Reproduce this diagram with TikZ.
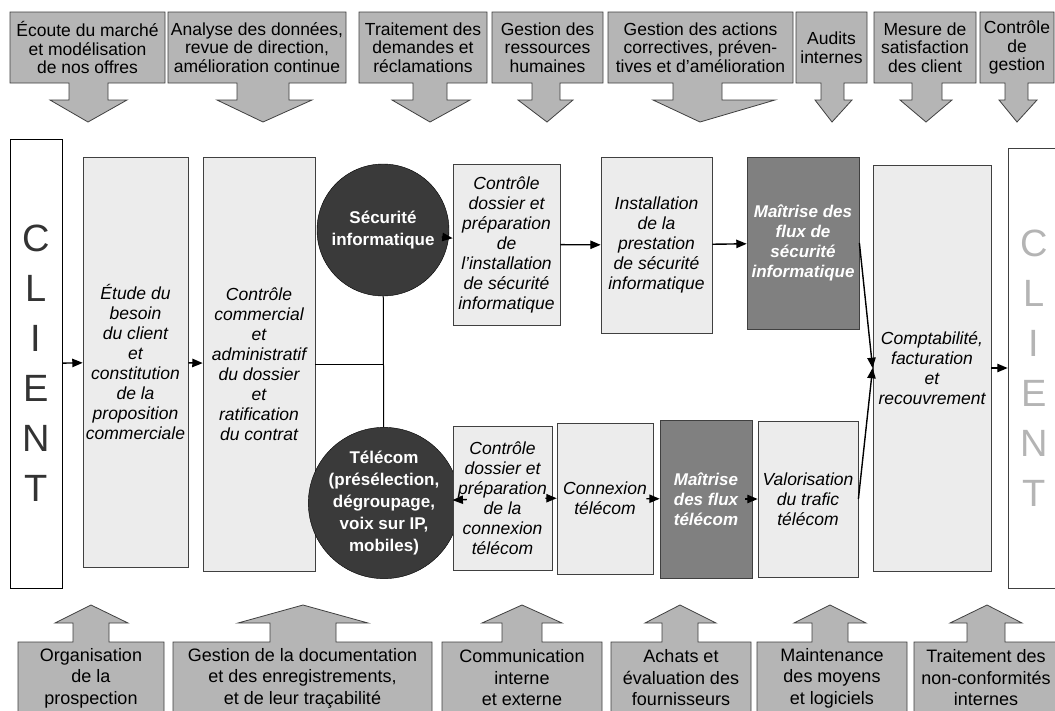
\documentclass[tikz,border=0pt]{standalone}
\usepackage{fontspec}
\setmainfont{Liberation Sans}
\usetikzlibrary{arrows}
\definecolor{callgray}{RGB}{181,181,181}
\definecolor{boxgray}{RGB}{236,236,236}
\definecolor{keygray}{RGB}{128,128,128}
\definecolor{hubgray}{RGB}{58,58,58}
\definecolor{edgegray}{RGB}{64,64,64}
\definecolor{fadegray}{RGB}{180,180,180}

\begin{document}
\begin{tikzpicture}[x=1pt,y=-1pt,>=triangle 45]
	\tikzstyle{procbox} = [rectangle,fill=boxgray,draw=edgegray,line width=0.8pt,inner sep=0pt,align=center,font=\fontsize{17.5}{20}\selectfont\itshape];
	\tikzstyle{keybox} = [procbox,fill=keygray,text=white,font=\fontsize{17}{20}\selectfont\bfseries\itshape];
	\tikzstyle{hub} = [circle,fill=hubgray,draw=black,minimum size=132pt,inner sep=0pt,align=center,text=white,font=\fontsize{17}{22}\selectfont\bfseries];
	\tikzstyle{clientbox} = [rectangle,fill=white,draw=black,line width=0.8pt,inner sep=0pt,align=center,font=\fontsize{38}{50}\selectfont];
	\tikzstyle{callout} = [fill=callgray,draw=edgegray,line width=0.8pt];
	\tikzstyle{toptext} = [align=center,inner sep=0pt,font=\fontsize{17.5}{18.5}\selectfont];
	\tikzstyle{bottext} = [align=center,inner sep=0pt,font=\fontsize{18}{21.5}\selectfont];
	\tikzstyle{flow} = [->,line width=1.4pt];
	\tikzstyle{stub} = [flow,shorten <=-7pt];
	\tikzstyle{link} = [line width=1pt];

	\useasboundingbox (0,0) rectangle (1055,710);
	\clip (0,0) rectangle (1055,710);
	\fill[white] (0,0) rectangle (1055,710);

	% processus de pilotage (haut)
	\draw[callout] (10,12) -- (165,12) -- (165,83) -- (108,83) -- (108,100) -- (127,100) -- (88,122) -- (50,100) -- (69,100) -- (69,83) -- (10,83) -- cycle;
	\node[toptext] (ecoute) at (87.5,47.5) {Écoute du marché\\et modélisation\\de nos offres};
	\draw[callout] (168,12) -- (346,12) -- (346,83) -- (289,83) -- (289,100) -- (312,100) -- (263,122) -- (217,100) -- (237,100) -- (237,83) -- (168,83) -- cycle;
	\node[toptext] (analyse) at (257,47.5) {Analyse des données,\\revue de direction,\\amélioration continue};
	\draw[callout] (359,12) -- (487,12) -- (487,83) -- (447,83) -- (447,100) -- (470,100) -- (430,122) -- (392,100) -- (413,100) -- (413,83) -- (359,83) -- cycle;
	\node[toptext] (reclam) at (423,47.5) {Traitement des\\demandes et\\réclamations};
	\draw[callout] (492,12) -- (603,12) -- (603,83) -- (560,83) -- (560,100) -- (573,100) -- (547,122) -- (518,100) -- (532,100) -- (532,83) -- (492,83) -- cycle;
	\node[toptext] (rh) at (547.5,47.5) {Gestion des\\ressources\\humaines};
	\draw[callout] (608,12) -- (793,12) -- (793,83) -- (722,83) -- (722,100) -- (775,100) -- (700,122) -- (653,100) -- (673,100) -- (673,83) -- (608,83) -- cycle;
	\node[toptext] (actions) at (700.5,47.5) {Gestion des actions\\correctives, préven-\\tives et d’amélioration};
	\draw[callout] (796,12) -- (867,12) -- (867,83) -- (844,83) -- (844,100) -- (852,100) -- (832,122) -- (815,100) -- (821,100) -- (821,83) -- (796,83) -- cycle;
	\node[toptext] (audits) at (831.5,47.5) {Audits\\internes};
	\draw[callout] (874,12) -- (976,12) -- (976,83) -- (942,83) -- (942,100) -- (952,100) -- (926,122) -- (900,100) -- (912,100) -- (912,83) -- (874,83) -- cycle;
	\node[toptext] (satisf) at (925,47.5) {Mesure de\\satisfaction\\des client};
	\draw[callout] (980,12) -- (1054,12) -- (1054,83) -- (1028,83) -- (1028,100) -- (1037,100) -- (1017,122) -- (999,100) -- (1005,100) -- (1005,83) -- (980,83) -- cycle;
	\node[toptext] (cdg) at (1017,47.5) {Contrôle\\de\\gestion};

	% processus de réalisation
	\node[clientbox,minimum width=52pt,minimum height=449pt,text=black!80] (clientL) at (36,363.5) {C\\L\\I\\E\\N\\T};
	\node[procbox,minimum width=105pt,minimum height=410pt] (etude) at (135.5,362) {Étude du\\besoin\\du client\\et\\constitution\\de la\\proposition\\commerciale};
	\node[procbox,minimum width=112pt,minimum height=414pt] (ctrlcom) at (259,364) {Contrôle\\commercial\\et\\administratif\\du dossier\\et\\ratification\\du contrat};
	\node[hub] (secu) at (383,230) {Sécurité\\informatique};
	\node[hub] (telecom) at (384,503) {Télécom\\(présélection,\\dégroupage,\\voix sur IP,\\mobiles)};
	\node[procbox,minimum width=107pt,minimum height=161pt] (ctrlsec) at (506.5,244.5) {Contrôle\\dossier et\\préparation\\de\\l’installation\\de sécurité\\informatique};
	\node[procbox,minimum width=111pt,minimum height=176pt] (install) at (656.5,245) {Installation\\de la\\prestation\\de sécurité\\informatique};
	\node[keybox,minimum width=112pt,minimum height=172pt] (maitsec) at (803,243) {Maîtrise des\\flux de\\sécurité\\informatique};
	\node[procbox,minimum width=99pt,minimum height=144pt] (ctrltel) at (502.5,498) {Contrôle\\dossier et\\préparation\\de la\\connexion\\télécom};
	\node[procbox,minimum width=96pt,minimum height=151pt] (connex) at (605,498.5) {Connexion\\télécom};
	\node[keybox,minimum width=92pt,minimum height=158pt] (maittel) at (706,499) {Maîtrise\\des flux\\télécom};
	\node[procbox,minimum width=100pt,minimum height=156pt] (valor) at (808,499) {Valorisation\\du trafic\\télécom};
	\node[procbox,minimum width=118pt,minimum height=406pt] (compta) at (932,368) {Comptabilité,\\facturation\\et\\recouvrement};
	\node[clientbox,draw=edgegray,minimum width=52pt,minimum height=440pt,text=fadegray] (clientR) at (1034,368) {C\\L\\I\\E\\N\\T};

	\draw[flow] (clientL) -- (etude);
	\draw[flow] (etude) -- (ctrlcom);
	\draw[link] (ctrlcom.east) -- (ctrlcom.east -| secu.south);
	\draw[link] (secu) -- (telecom);
	\draw[stub] (secu) -- (ctrlsec);
	\draw[flow] (ctrlsec) -- (install);
	\draw[flow] (install) -- (maitsec);
	\draw[stub] (telecom) -- (ctrltel);
	\draw[stub] (ctrltel) -- (connex);
	\draw[stub] (connex) -- (maittel);
	\draw[stub] (maittel) -- (valor);
	\draw[flow] (maitsec.east) -- (compta.west);
	\draw[flow] (valor.east) -- (compta.west);
	\draw[flow] (compta) -- (clientR);

	% processus support (bas)
	\draw[callout] (18,715) -- (18,642) -- (73,642) -- (73,623) -- (55,623) -- (91,605) -- (128,623) -- (109,623) -- (109,642) -- (164,642) -- (164,715) -- cycle;
	\node[bottext] (prospect) at (91,678) {Organisation\\de la\\prospection};
	\draw[callout] (173,715) -- (173,642) -- (270,642) -- (270,623) -- (238,623) -- (303,605) -- (368,623) -- (336,623) -- (336,642) -- (432,642) -- (432,715) -- cycle;
	\node[bottext] (docu) at (302.5,678) {Gestion de la documentation\\et des enregistrements,\\et de leur traçabilité};
	\draw[callout] (442,715) -- (442,642) -- (502,642) -- (502,623) -- (482,623) -- (522,605) -- (562,623) -- (542,623) -- (542,642) -- (602,642) -- (602,715) -- cycle;
	\node[bottext] (commu) at (522,678) {Communication\\interne\\et externe};
	\draw[callout] (611,715) -- (611,642) -- (662,642) -- (662,623) -- (645,623) -- (680,605) -- (716,623) -- (698,623) -- (698,642) -- (751,642) -- (751,715) -- cycle;
	\node[bottext] (achats) at (681,678) {Achats et\\évaluation des\\fournisseurs};
	\draw[callout] (757,715) -- (757,642) -- (812,642) -- (812,623) -- (794,623) -- (830,605) -- (866,623) -- (848,623) -- (848,642) -- (907,642) -- (907,715) -- cycle;
	\node[bottext] (mainten) at (832,678) {Maintenance\\des moyens\\et logiciels};
	\draw[callout] (914,715) -- (914,642) -- (967,642) -- (967,623) -- (950,623) -- (987,605) -- (1022,623) -- (1005,623) -- (1005,642) -- (1060,642) -- (1060,715) -- cycle;
	\node[bottext] (noncf) at (986,678) {Traitement des\\non-conformités\\internes};
\end{tikzpicture}
\end{document}
